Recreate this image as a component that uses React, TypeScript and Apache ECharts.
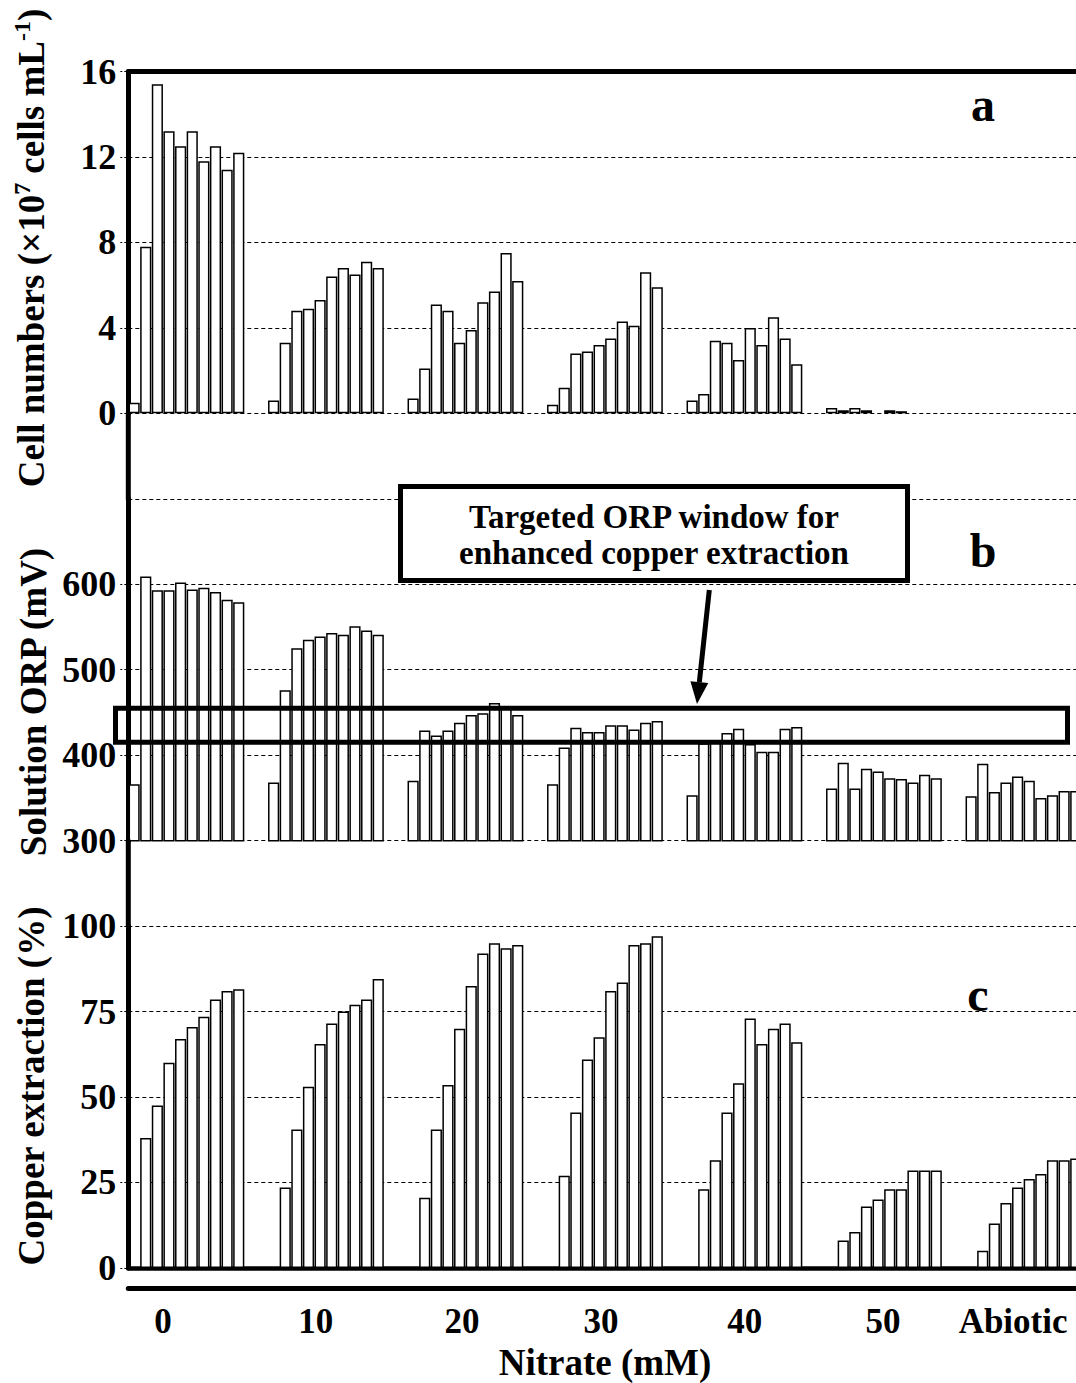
import React, { useEffect, useRef } from "react";
import * as echarts from "echarts";

const FONT = '"Liberation Serif", "Times New Roman", serif';

// Nitrate treatments (x groups) and the 10 sampling points within each group
const nitrateGroups = ["0", "10", "20", "30", "40", "50", "Abiotic"];
const samplingPoints = ["t1", "t2", "t3", "t4", "t5", "t6", "t7", "t8", "t9", "t10"];
const gapSlots = 2;

// Panel a: cell numbers (x10^7 cells/mL)
const cells0 = [0.5, 7.8, 15.4, 13.2, 12.5, 13.2, 11.8, 12.5, 11.4, 12.2];
const cells10 = [0.6, 3.3, 4.8, 4.9, 5.3, 6.4, 6.8, 6.5, 7.1, 6.8];
const cells20 = [0.7, 2.1, 5.1, 4.8, 3.3, 3.9, 5.2, 5.7, 7.5, 6.2];
const cells30 = [0.4, 1.2, 2.8, 2.9, 3.2, 3.5, 4.3, 4.1, 6.6, 5.9];
const cells40 = [0.6, 0.9, 3.4, 3.3, 2.5, 4.0, 3.2, 4.5, 3.5, 2.3];
const cells50 = [0.25, 0.15, 0.25, 0.15, null, 0.15, 0.1, null, null, null];
const cellsAbiotic = [null, null, null, null, null, null, null, null, null, null];

// Panel b: solution ORP (mV)
const orp0 = [366, 609, 593, 593, 602, 594, 596, 591, 582, 579];
const orp10 = [368, 476, 525, 535, 539, 543, 541, 551, 546, 541];
const orp20 = [370, 429, 423, 429, 438, 447, 449, 461, 457, 447];
const orp30 = [366, 409, 432, 427, 427, 435, 435, 430, 438, 440];
const orp40 = [353, 414, 415, 426, 431, 413, 404, 404, 431, 433];
const orp50 = [361, 391, 361, 384, 381, 373, 372, 368, 377, 373];
const orpAbiotic = [352, 390, 357, 368, 375, 370, 350, 353, 358, 358];

// Panel c: copper extraction (%)
const cu0 = [0, 38, 47.5, 60, 67, 70.5, 73.5, 78.5, 81, 81.5];
const cu10 = [0, 23.5, 40.5, 53, 65.5, 71.5, 75, 77, 78.5, 84.5];
const cu20 = [0, 20.5, 40.5, 53.5, 70, 82.5, 92, 95, 93.5, 94.5];
const cu30 = [0, 27, 45.5, 61, 67.5, 81, 83.5, 94.5, 95, 97];
const cu40 = [0, 23, 31.5, 45.5, 54, 73, 65.5, 70, 71.5, 66];
const cu50 = [0, 8, 10.5, 18, 20, 23, 23, 28.5, 28.5, 28.5];
const cuAbiotic = [0, 5, 13, 19, 23.5, 26, 27.5, 31.5, 31.5, 32];

// Targeted ORP window (mV)
const orpWindow = [415, 455];

const cellGroups = [cells0, cells10, cells20, cells30, cells40, cells50, cellsAbiotic];
const orpGroups = [orp0, orp10, orp20, orp30, orp40, orp50, orpAbiotic];
const cuGroups = [cu0, cu10, cu20, cu30, cu40, cu50, cuAbiotic];

const slotNames: string[] = [];
nitrateGroups.forEach((g) => {
  samplingPoints.forEach((t) => slotNames.push(g + "-" + t));
  for (let k = 0; k < gapSlots; k++) slotNames.push(g + "-gap" + k);
});

function flatten(groups: (number | null)[][]) {
  const out: (number | null)[] = [];
  groups.forEach((arr) => {
    arr.forEach((v) => out.push(v));
    for (let k = 0; k < gapSlots; k++) out.push(null);
  });
  return out;
}

// layout
const U = 85.46;
const TOP = 71.5;
const LEFT = 128.3;
const SLOT = 11.625;
const WIDTH = slotNames.length * SLOT;
const H = 4 * U;
// per-label horizontal nudges (left padding) of the group labels
const labelPadLeft = [0, 22, 31, 26, 30, 23, 0];

export default function App() {
  const ref = useRef<HTMLDivElement>(null);
  useEffect(() => {
    const chart = echarts.init(ref.current!, null, { renderer: "svg" });

    const grid = (top: number) => ({
      left: LEFT,
      top,
      width: WIDTH,
      height: H,
      containLabel: false,
      outerBoundsMode: "none",
    });

    const yAxis = (gridIndex: number, min: number, max: number, interval: number, showMax = true) => ({
      gridIndex,
      type: "value",
      min,
      max,
      interval,
      axisLine: { show: true, onZero: false, lineStyle: { color: "#000", width: 5 } },
      axisTick: { show: true, length: 8, lineStyle: { color: "#000", width: 1, type: "dashed" } },
      axisLabel: {
        color: "#000",
        fontSize: 36,
        fontWeight: "bold",
        fontFamily: FONT,
        margin: 12,
        showMaxLabel: showMax,
      },
      splitLine: { show: true, lineStyle: { color: "#000", width: 1.2, type: [4, 3] } },
    });

    const xSlots = (gridIndex: number, extra: any) => ({
      gridIndex,
      type: "category",
      data: slotNames,
      axisLabel: { show: false },
      axisTick: { show: false },
      splitLine: { show: false },
      ...extra,
    });

    const barStyle = {
      type: "bar",
      barCategoryGap: "4%",
      clip: true,
      silent: true,
      itemStyle: { color: "#fff", borderColor: "#000", borderWidth: 1.5 },
    };

    const labelFont = { color: "#000", fontSize: 35, fontWeight: "bold", fontFamily: FONT };
    const labelRich: any = {};
    labelPadLeft.forEach((p, i) => {
      labelRich["g" + i] = { ...labelFont, padding: [0, 0, 0, p] };
    });

    const option: any = {
      animation: false,
      backgroundColor: "#fff",
      textStyle: { fontFamily: FONT },
      grid: [
        grid(TOP),
        grid(TOP + 5 * U),
        grid(TOP + 10 * U),
        { left: 92.2, width: 991.7, top: 1290, height: 10, containLabel: false, outerBoundsMode: "none" },
      ],
      xAxis: [
        xSlots(0, { position: "top", axisLine: { show: true, onZero: false, lineStyle: { color: "#000", width: 5 } } }),
        xSlots(1, { position: "bottom", axisLine: { show: false } }),
        xSlots(2, { position: "bottom", axisLine: { show: true, onZero: false, lineStyle: { color: "#000", width: 4.5 } } }),
        xSlots(2, { position: "bottom", offset: 20, axisLine: { show: true, onZero: false, lineStyle: { color: "#000", width: 5 } } }),
        {
          gridIndex: 3,
          type: "category",
          data: nitrateGroups,
          position: "bottom",
          axisLine: { show: false },
          axisTick: { show: false },
          splitLine: { show: false },
          axisLabel: {
            ...labelFont,
            margin: 4,
            interval: 0,
            hideOverlap: false,
            formatter: (v: string, i: number) => "{g" + i + "|" + v + "}",
            rich: labelRich,
          },
          name: "Nitrate (mM)",
          nameLocation: "middle",
          nameGap: 44,
          nameTextStyle: { color: "#000", fontSize: 37, fontWeight: "bold", fontFamily: FONT, padding: [0, 0, 0, 34] },
        },
      ],
      yAxis: [
        yAxis(0, 0, 16, 4),
        yAxis(1, 300, 700, 100, false),
        yAxis(2, 0, 100, 25),
        { gridIndex: 3, type: "value", show: false },
      ],
      series: [
        { ...barStyle, name: "Cell numbers", xAxisIndex: 0, yAxisIndex: 0, data: flatten(cellGroups) },
        { ...barStyle, name: "Solution ORP", xAxisIndex: 1, yAxisIndex: 1, data: flatten(orpGroups) },
        { ...barStyle, name: "Copper extraction", xAxisIndex: 2, yAxisIndex: 2, data: flatten(cuGroups) },
      ],
    };
    chart.setOption(option);

    const yWinTop = chart.convertToPixel({ yAxisIndex: 1 } as any, orpWindow[1]) as number;
    const yWinBot = chart.convertToPixel({ yAxisIndex: 1 } as any, orpWindow[0]) as number;

    const boldText = (size: number) => ({ fontSize: size, fontWeight: "bold", fontFamily: FONT, fill: "#000" });

    // arrow geometry
    const tail = [709.3, 590];
    const tip = [697, 704];
    const dx = tip[0] - tail[0];
    const dy = tip[1] - tail[1];
    const len = Math.sqrt(dx * dx + dy * dy);
    const ux = dx / len;
    const uy = dy / len;
    const headLen = 22;
    const headHalf = 9;
    const bx = tip[0] - ux * headLen;
    const by = tip[1] - uy * headLen;

    chart.setOption({
      graphic: [
        // continuous left axis through the gaps between panels
        { type: "line", silent: true, z: 5, shape: { x1: LEFT, y1: TOP + 4 * U - 1, x2: LEFT, y2: TOP + 5 * U + 1 }, style: { stroke: "#000", lineWidth: 5 } },
        { type: "line", silent: true, z: 5, shape: { x1: LEFT, y1: TOP + 9 * U - 1, x2: LEFT, y2: TOP + 10 * U + 1 }, style: { stroke: "#000", lineWidth: 5 } },
        // ORP window
        {
          type: "rect",
          silent: true,
          z: 10,
          shape: { x: 115.5, y: yWinTop, width: 1067.5 - 115.5, height: yWinBot - yWinTop },
          style: { fill: "none", stroke: "#000", lineWidth: 5 },
        },
        // annotation box
        {
          type: "rect",
          silent: true,
          z: 10,
          shape: { x: 400.5, y: 486.5, width: 507, height: 94 },
          style: { fill: "#fff", stroke: "#000", lineWidth: 5 },
        },
        {
          type: "text",
          silent: true,
          z: 11,
          x: 654,
          y: 535,
          style: {
            text: "Targeted ORP window for\nenhanced copper extraction",
            ...boldText(33),
            lineHeight: 36,
            align: "center",
            verticalAlign: "middle",
          },
        },
        // arrow
        {
          type: "line",
          silent: true,
          z: 11,
          shape: { x1: tail[0], y1: tail[1], x2: bx, y2: by },
          style: { stroke: "#000", lineWidth: 5 },
        },
        {
          type: "polygon",
          silent: true,
          z: 11,
          shape: {
            points: [
              [bx - uy * headHalf, by + ux * headHalf],
              [bx + uy * headHalf, by - ux * headHalf],
              [tip[0], tip[1]],
            ],
          },
          style: { fill: "#000" },
        },
        // panel letters
        { type: "text", silent: true, z: 11, x: 983, y: 104, style: { text: "a", ...boldText(48), align: "center", verticalAlign: "middle" } },
        { type: "text", silent: true, z: 11, x: 983, y: 550, style: { text: "b", ...boldText(48), align: "center", verticalAlign: "middle" } },
        { type: "text", silent: true, z: 11, x: 978, y: 994, style: { text: "c", ...boldText(48), align: "center", verticalAlign: "middle" } },
        // y axis titles
        {
          type: "text",
          silent: true,
          z: 11,
          x: 31,
          y: 248,
          rotation: Math.PI / 2,
          style: {
            text: "{b|Cell numbers (\u00d710}{s|7}{b| cells mL}{s|-1}{b|)}",
            align: "center",
            verticalAlign: "middle",
            rich: {
              b: { ...boldText(37), lineHeight: 42 },
              s: { ...boldText(24), lineHeight: 26, verticalAlign: "top" },
            },
          },
        },
        {
          type: "text",
          silent: true,
          z: 11,
          x: 33,
          y: 702,
          rotation: Math.PI / 2,
          style: { text: "Solution ORP (mV)", ...boldText(37), align: "center", verticalAlign: "middle" },
        },
        {
          type: "text",
          silent: true,
          z: 11,
          x: 31,
          y: 1086,
          rotation: Math.PI / 2,
          style: { text: "Copper extraction (%)", ...boldText(37), align: "center", verticalAlign: "middle" },
        },
      ],
    });

    return () => chart.dispose();
  }, []);

  return (
    <div
      ref={ref}
      style={{ position: "absolute", left: 0, top: 0, width: 1076, height: 1383, background: "#fff" }}
    />
  );
}
